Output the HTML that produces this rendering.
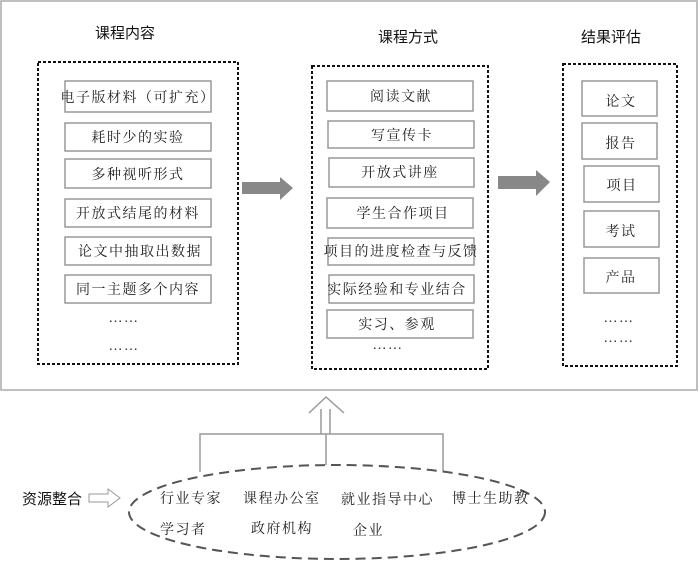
<!DOCTYPE html>
<html><head><meta charset="utf-8"><style>
html,body{margin:0;padding:0;background:#fff;}
svg{display:block;}
.t{font-family:"Liberation Sans","Noto Sans CJK SC",sans-serif;font-size:15px;fill:#111;}
.s{font-family:"Liberation Serif","Noto Serif CJK SC",serif;font-size:14px;fill:#222;letter-spacing:1.5px;}
.b{fill:#fff;stroke:#999;stroke-width:1.5;}
.d{fill:none;stroke:#111;stroke-width:2;stroke-dasharray:3,2;}
</style></head><body>
<svg width="700" height="561" viewBox="0 0 700 561">
<rect x="1" y="1" width="696" height="389" fill="#fff" stroke="#aaa" stroke-width="1.5"/>
<text class="t" x="95" y="38">课程内容</text>
<text class="t" x="378" y="42">课程方式</text>
<text class="t" x="581" y="42">结果评估</text>

<rect class="d" x="38" y="62" width="200" height="302"/>
<g text-anchor="middle">
<rect class="b" x="65" y="81" width="146" height="31"/><text class="s" x="138" y="102">电子版材料（可扩充）</text>
<rect class="b" x="65" y="123" width="146" height="28"/><text class="s" x="138" y="142">耗时少的实验</text>
<rect class="b" x="65" y="159" width="146" height="29"/><text class="s" x="138" y="179">多种视听形式</text>
<rect class="b" x="65" y="199" width="146" height="28"/><text class="s" x="138" y="218">开放式结尾的材料</text>
<rect class="b" x="65" y="237" width="146" height="28"/><text class="s" x="140" y="256">论文中抽取出数据</text>
<rect class="b" x="65" y="275" width="146" height="28"/><text class="s" x="138" y="294">同一主题多个内容</text>
<text class="s" x="124" y="322">……</text>
<text class="s" x="124" y="350">……</text>
</g>
<polygon points="242,182 280,182 280,177 293,188 280,200 280,194 242,194" fill="#888"/>

<rect class="d" x="312" y="66" width="176" height="303"/>
<g text-anchor="middle">
<rect class="b" x="327" y="81" width="146" height="30"/><text class="s" x="401" y="101">阅读文献</text>
<rect class="b" x="328" y="121" width="146" height="27"/><text class="s" x="402" y="140">写宣传卡</text>
<rect class="b" x="329" y="158" width="145" height="29"/><text class="s" x="400" y="177">开放式讲座</text>
<rect class="b" x="327" y="198" width="146" height="30"/><text class="s" x="403" y="218">学生合作项目</text>
<rect class="b" x="328" y="238" width="146" height="27"/><text class="s" x="401" y="256">项目的进度检查与反馈</text>
<rect class="b" x="329" y="275" width="145" height="28"/><text class="s" x="397" y="294">实际经验和专业结合</text>
<rect class="b" x="327" y="310" width="146" height="28"/><text class="s" x="397" y="329">实习、参观</text>
<text class="s" x="388" y="349">……</text>
</g>
<polygon points="498,176 536,176 536,170 550,182 536,196 536,189 498,189" fill="#888"/>

<rect class="d" x="563" y="64" width="114" height="302"/>
<g text-anchor="middle">
<rect class="b" x="582" y="81" width="75" height="35"/><text class="s" x="621" y="106">论文</text>
<rect class="b" x="582" y="123" width="75" height="36"/><text class="s" x="621" y="148">报告</text>
<rect class="b" x="584" y="166" width="75" height="36"/><text class="s" x="622" y="190">项目</text>
<rect class="b" x="584" y="211" width="75" height="36"/><text class="s" x="621" y="236">考试</text>
<rect class="b" x="584" y="258" width="75" height="35"/><text class="s" x="621" y="282">产品</text>
<text class="s" x="619" y="322">……</text>
<text class="s" x="619" y="342">……</text>
</g>

<g stroke="#999" stroke-width="1.5" fill="none">
<polyline points="309,413 326,397 344,413"/>
<line x1="321" y1="409" x2="321" y2="434"/>
<line x1="330" y1="409" x2="330" y2="434"/>
<polyline points="200,472 200,434 443,434 443,471"/>
<line x1="326" y1="434" x2="326" y2="465"/>
<polygon points="89,494 108,494 108,489 120,498 108,507 108,502 89,502" stroke-width="1"/>
</g>
<ellipse cx="337" cy="512" rx="208" ry="47" fill="none" stroke="#555" stroke-width="2" stroke-dasharray="10,6"/>
<text class="t" x="22" y="504">资源整合</text>
<g class="s">
<text x="160" y="503">行业专家</text>
<text x="243" y="503">课程办公室</text>
<text x="341" y="504">就业指导中心</text>
<text x="452" y="503">博士生助教</text>
<text x="160" y="534">学习者</text>
<text x="251" y="533">政府机构</text>
<text x="353" y="535">企业</text>
</g>
</svg>
</body></html>
